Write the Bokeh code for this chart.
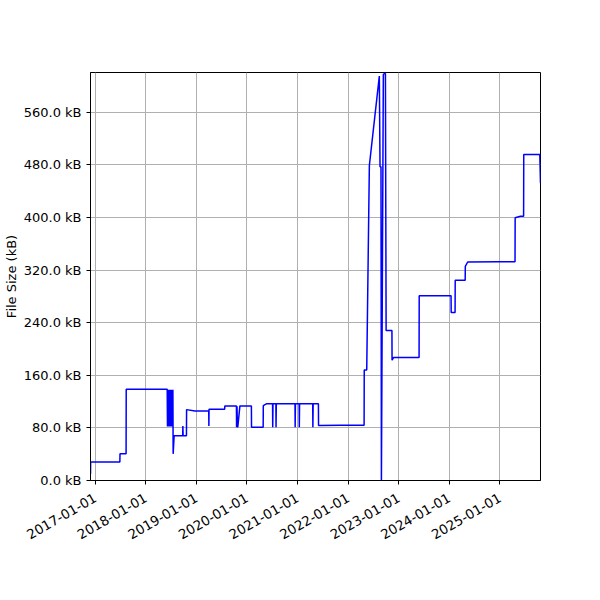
import math
import pandas as pd
from bokeh.plotting import figure
from bokeh.models import Range1d, FixedTicker, DatetimeTickFormatter, PrintfTickFormatter
from bokeh.embed import file_html
from bokeh.resources import INLINE

# ---- data ----
dates = [
    "2016-11-28", "2016-11-29", "2017-06-28", "2017-06-29", "2017-08-12", "2017-08-13",
    "2018-06-05", "2018-06-07", "2018-06-10", "2018-06-14", "2018-06-18", "2018-06-22",
    "2018-06-27", "2018-07-02", "2018-07-08", "2018-07-12", "2018-07-16", "2018-07-18",
    "2018-07-25", "2018-09-25", "2018-09-26", "2018-09-28", "2018-10-22", "2018-10-23",
    "2018-12-22", "2019-04-01", "2019-04-02", "2019-04-03", "2019-07-25", "2019-07-26",
    "2019-10-18", "2019-10-19", "2019-10-22", "2019-10-25", "2019-10-28", "2019-11-12",
    "2020-02-03", "2020-02-04", "2020-04-28", "2020-04-29", "2020-05-24", "2020-07-05",
    "2020-07-06", "2020-07-08", "2020-07-29", "2020-07-30", "2020-08-01", "2020-12-14",
    "2020-12-15", "2020-12-17", "2021-01-13", "2021-01-14", "2021-01-16", "2021-04-21",
    "2021-04-22", "2021-04-24", "2021-06-01", "2021-06-02", "2021-11-05", "2022-04-27",
    "2022-04-28", "2022-05-16", "2022-06-04", "2022-08-15", "2022-08-20", "2022-08-27",
    "2022-08-30", "2022-09-13", "2022-09-28", "2022-10-03", "2022-11-14", "2022-11-15",
    "2022-11-25", "2023-05-29", "2023-05-30", "2024-01-15", "2024-01-16", "2024-02-13",
    "2024-02-14", "2024-04-26", "2024-04-27", "2024-05-14", "2024-12-15", "2025-04-21",
    "2025-04-22", "2025-05-30", "2025-06-22", "2025-06-23", "2025-10-17", "2025-10-22",
]
sizes_kb = [
    10, 28, 28, 40.5, 40.5, 138.7,
    138.7, 82, 138, 82, 138, 82,
    138, 82, 138, 82, 138, 40.5,
    68, 68, 83, 68, 68, 107.8,
    105.8, 105.8, 83, 108.3, 108.3, 113.4,
    113.4, 81, 113, 81, 82, 113.4,
    113.4, 81, 81, 113.8, 116.9, 116.9,
    81, 116.9, 116.9, 81, 116.9, 116.9,
    81, 116.9, 116.9, 81, 116.9, 116.9,
    81, 116.9, 116.9, 83.5, 84, 84,
    168, 168, 479, 615, 477, 477,
    0, 618, 619, 228, 228, 183,
    187, 187, 281, 281, 255.5, 255.5,
    304.6, 304.6, 325.8, 332.3, 332.8, 332.8,
    399.7, 402, 402, 495.8, 495.8, 452,
]
x_tick_dates = ["2017-01-01", "2018-01-01", "2019-01-01", "2020-01-01", "2021-01-01",
                "2022-01-01", "2023-01-01", "2024-01-01", "2025-01-01"]
y_ticks_kb = [0, 80, 160, 240, 320, 400, 480, 560]
y_label = "File Size (kB)"

x = pd.to_datetime(dates)

p = figure(
    x_axis_type="datetime",
    frame_width=450, frame_height=408,
    x_range=Range1d(x[0].to_pydatetime(), x[-1].to_pydatetime()),
    y_range=Range1d(0, 620.5),
    output_backend="svg", toolbar_location=None,
    min_border_left=60, min_border_top=72, min_border_right=52, min_border_bottom=100,
    background_fill_color="white", border_fill_color="white",
)

p.line(x, sizes_kb, line_color="#0000ff", line_width=1.5)

font = "DejaVu Sans"
p.xaxis.ticker = FixedTicker(ticks=[pd.Timestamp(t).value / 1e6 for t in x_tick_dates])
fmt = "%Y-%m-%d"
p.xaxis.formatter = DatetimeTickFormatter(
    microseconds=fmt, milliseconds=fmt, seconds=fmt, minsec=fmt, minutes=fmt,
    hourmin=fmt, hours=fmt, days=fmt, months=fmt, years=fmt)
p.xaxis.major_label_orientation = math.pi / 6
p.yaxis.ticker = FixedTicker(ticks=y_ticks_kb)
p.yaxis.formatter = PrintfTickFormatter(format="%.1f kB")
p.yaxis.axis_label = y_label

for ax in (p.xaxis, p.yaxis):
    ax.major_label_text_font = font
    ax.major_label_text_font_size = "13px"
    ax.major_label_text_color = "black"
    ax.axis_label_text_font = font
    ax.axis_label_text_font_size = "13px"
    ax.axis_label_text_font_style = "normal"
    ax.axis_label_text_color = "black"
    ax.axis_line_color = "black"
    ax.axis_line_width = 1
    ax.major_tick_line_color = "black"
    ax.major_tick_line_width = 1
    ax.major_tick_out = 4
    ax.major_tick_in = 0
    ax.minor_tick_line_color = None

p.xaxis.major_label_text_font_size = "13.4px"
p.yaxis.major_label_standoff = 5
p.yaxis.axis_label_standoff = 2
p.xaxis.major_label_standoff = 12

for g in (p.xgrid, p.ygrid):
    g.grid_line_color = "#b0b0b0"
    g.grid_line_width = 1
p.xgrid.ticker = p.xaxis.ticker
p.ygrid.ticker = p.yaxis.ticker

p.outline_line_color = "black"
p.outline_line_alpha = 1
p.outline_line_width = 1

open("out.html", "w").write(file_html(p, INLINE))
